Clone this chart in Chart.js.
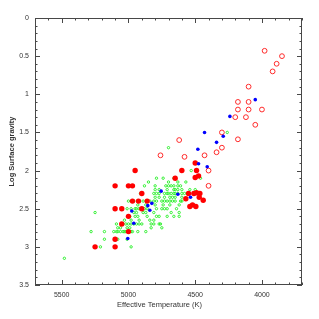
<!DOCTYPE html>
<html>
<head>
<meta charset="utf-8">
<title>Log g vs Teff</title>
<script src="https://cdn.jsdelivr.net/npm/chart.js@4.4.1/dist/chart.umd.min.js"></script>
<style>
  html, body { margin: 0; padding: 0; background: #fff; }
  canvas { display: block; }
</style>
</head>
<body>
<canvas id="chart" width="319" height="319"></canvas>
<script>
// tick labels
const xTicks = [5500, 5000, 4500, 4000];
const yTicks = [0, 0.5, 1, 1.5, 2, 2.5, 3, 3.5];
const xTitle = 'Effective Temperature (K)';

// large open red circles
const openTeff = [3980, 3850, 3890, 3920, 4100, 4180, 4100, 4180, 4100, 4000, 4200, 4120,
  4050, 4300, 4180, 4620, 4300, 4340, 4760, 4580, 4430, 4400, 4400];
const openLogg = [0.43, 0.5, 0.6, 0.7, 0.9, 1.1, 1.1, 1.2, 1.2, 1.2, 1.3, 1.3,
  1.4, 1.5, 1.59, 1.6, 1.7, 1.76, 1.8, 1.82, 1.8, 2.0, 2.2];

// small filled blue
const blueTeff = [4050, 4240, 4430, 4290, 4340, 4480, 4475, 4410, 4755, 4630, 4535,
  4825, 4855, 4840, 4975, 4960, 5005];
const blueLogg = [1.07, 1.29, 1.5, 1.55, 1.63, 1.72, 1.91, 1.95, 2.27, 2.31, 2.35,
  2.43, 2.46, 2.52, 2.53, 2.69, 2.89];

// filled red
const redTeff = [5100, 5000, 4970, 4950, 5100, 5050, 4970, 4925, 4900, 4860, 4900, 5000,
  5050, 5000, 5100, 5100, 5250, 4650, 4600, 4500, 4490, 4500, 4475, 4550, 4510, 4490,
  4465, 4470, 4570, 4440, 4540, 4520, 4495];
const redLogg = [2.2, 2.2, 2.2, 2.0, 2.5, 2.5, 2.4, 2.4, 2.3, 2.4, 2.5, 2.6,
  2.7, 2.8, 2.9, 3.0, 3.0, 2.1, 2.0, 1.9, 2.0, 2.09, 2.07, 2.3, 2.3, 2.29,
  2.3, 2.35, 2.37, 2.39, 2.47, 2.45, 2.47];

// small open green
const greenTeff = [4700, 4260, 4530, 4460,
  4790, 4740, 4660,
  4850, 4700, 4630, 4570,
  4880, 4800, 4720, 4700, 4680, 4660, 4630, 4610,
  4800, 4770, 4710, 4660, 4650, 4630, 4600, 4540, 4500,
  4910, 4810, 4790, 4770, 4730, 4710, 4700, 4680, 4660, 4650, 4630, 4600, 4580,
  4800, 4770, 4730, 4690, 4670, 4650, 4600,
  5000, 4960, 4890, 4840, 4810, 4790, 4750, 4730, 4710, 4690, 4670, 4650, 4610, 4600,
  4930, 4870, 4800, 4740, 4690, 4620, 4530,
  5010, 4980, 4950, 4940, 4920, 4880, 4860, 4790, 4750, 4730, 4710, 4640,
  4960, 4940, 4890, 4870, 4810, 4680, 4620, 5250,
  4990, 4950, 4930, 4860, 4790, 4770, 4710, 4660, 4620,
  5030, 4980, 4920, 4840, 4810,
  5090, 5020, 5000, 4980, 4960, 4940, 4920, 4900, 4830, 4810, 4770, 4760,
  5080, 5060, 5010, 4990, 4830, 4750,
  5180, 5110, 5090, 5080, 5060, 5040, 5030, 5020, 4980, 4970, 4930, 4870, 5280,
  5180, 5080, 5010,
  5210, 4980,
  5480];
const greenLogg = [1.7, 1.5, 2.0, 2.1,
  2.1, 2.1, 2.1,
  2.15, 2.15, 2.15, 2.15,
  2.2, 2.2, 2.2, 2.2, 2.2, 2.2, 2.2, 2.2,
  2.25, 2.25, 2.25, 2.25, 2.25, 2.25, 2.25, 2.25, 2.25,
  2.3, 2.3, 2.3, 2.3, 2.3, 2.3, 2.3, 2.3, 2.3, 2.3, 2.3, 2.3, 2.3,
  2.35, 2.35, 2.35, 2.35, 2.35, 2.35, 2.35,
  2.4, 2.4, 2.4, 2.4, 2.4, 2.4, 2.4, 2.4, 2.4, 2.4, 2.4, 2.4, 2.4, 2.4,
  2.45, 2.45, 2.45, 2.45, 2.45, 2.45, 2.45,
  2.5, 2.5, 2.5, 2.5, 2.5, 2.5, 2.5, 2.5, 2.5, 2.5, 2.5, 2.5,
  2.55, 2.55, 2.55, 2.55, 2.55, 2.55, 2.55, 2.55,
  2.6, 2.6, 2.6, 2.6, 2.6, 2.6, 2.6, 2.6, 2.6,
  2.65, 2.65, 2.65, 2.65, 2.65,
  2.7, 2.7, 2.7, 2.7, 2.7, 2.7, 2.7, 2.7, 2.7, 2.7, 2.7, 2.7,
  2.75, 2.75, 2.75, 2.75, 2.75, 2.75,
  2.8, 2.8, 2.8, 2.8, 2.8, 2.8, 2.8, 2.8, 2.8, 2.8, 2.8, 2.8, 2.8,
  2.9, 2.9, 2.9,
  3.0, 3.0,
  3.15];

const pts = (xs, ys) => xs.map((v, i) => ({ x: v, y: ys[i] }));

// box around the plot with inward ticks, like the original
const frame = {
  id: 'frame',
  afterDraw(chart) {
    const { ctx, chartArea: a, scales: { x, y } } = chart;
    ctx.save();
    ctx.strokeStyle = '#484848';
    ctx.lineWidth = 1;
    ctx.strokeRect(a.left + 0.5, a.top + 0.5, a.right - a.left - 1, a.bottom - a.top - 1);
    ctx.beginPath();
    for (let t = x.min; t <= x.max; t += 100) {
      const px = Math.round(x.getPixelForValue(t)) + 0.5;
      const len = t % 500 === 0 ? 5 : 2.5;
      ctx.moveTo(px, a.top); ctx.lineTo(px, a.top + len);
      ctx.moveTo(px, a.bottom); ctx.lineTo(px, a.bottom - len);
    }
    for (let i = 0; i <= 35; i++) {
      const py = Math.round(y.getPixelForValue(i / 10)) + 0.5;
      const len = i % 5 === 0 ? 5 : 2.5;
      ctx.moveTo(a.left, py); ctx.lineTo(a.left + len, py);
      ctx.moveTo(a.right, py); ctx.lineTo(a.right - len, py);
    }
    ctx.stroke();

    // x title sits centred on the whole picture in the original, not on the plot
    ctx.fillStyle = '#333';
    ctx.font = '7.5px "Liberation Sans", Arial, sans-serif';
    ctx.textAlign = 'center';
    ctx.textBaseline = 'middle';
    ctx.fillText(xTitle, chart.width / 2, 305);
    ctx.restore();
  }
};

Chart.defaults.font.family = '"Liberation Sans", Arial, sans-serif';
Chart.defaults.font.size = 7;
Chart.defaults.color = '#333';

new Chart(document.getElementById('chart'), {
  type: 'scatter',
  data: {
    datasets: [
      { data: pts(blueTeff, blueLogg), pointRadius: 1.8, pointBorderWidth: 0,
        pointBackgroundColor: '#0000ff' },
      { data: pts(redTeff, redLogg), pointRadius: 2.7, pointBorderWidth: 0,
        pointBackgroundColor: '#ff0000' },
      { data: pts(openTeff, openLogg), pointRadius: 2.4, pointBorderWidth: 1,
        pointBorderColor: '#ff2a2a', pointBackgroundColor: 'rgba(0,0,0,0)' },
      { data: pts(greenTeff, greenLogg), pointRadius: 1.2, pointBorderWidth: 0.9,
        pointBorderColor: '#22ee22', pointBackgroundColor: 'rgba(0,0,0,0)' }
    ]
  },
  options: {
    responsive: false,
    animation: false,
    layout: { padding: { top: 18, right: 17, left: 0, bottom: 0 } },
    plugins: { legend: { display: false }, tooltip: { enabled: false } },
    scales: {
      x: {
        type: 'linear', reverse: true, min: 3700, max: 5700,
        grid: { display: false, drawTicks: false },
        border: { display: false },
        afterFit: s => { s.height = 34; },
        afterBuildTicks: s => { s.ticks = xTicks.map(v => ({ value: v })); },
        ticks: { padding: 6, maxRotation: 0, callback: v => String(v) }
      },
      y: {
        type: 'linear', reverse: true, min: 0, max: 3.5,
        grid: { display: false, drawTicks: false },
        border: { display: false },
        afterFit: s => { s.width = 35; },
        afterBuildTicks: s => { s.ticks = yTicks.map(v => ({ value: v })); },
        ticks: { padding: 6, callback: v => String(v) },
        title: { display: true, text: 'Log Surface gravity', font: { weight: 'bold', size: 7.5 },
          padding: { top: 7, bottom: 0 } }
      }
    }
  },
  plugins: [frame]
});
</script>
</body>
</html>
